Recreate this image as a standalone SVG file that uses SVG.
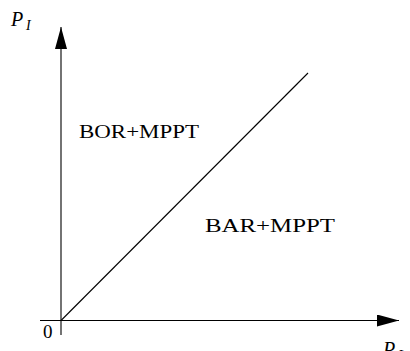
<svg xmlns="http://www.w3.org/2000/svg" width="410" height="351" viewBox="0 0 410 351">
<style>
.ax{stroke:#000;stroke-width:1.1;fill:none}
.lbl{font-family:"Liberation Serif",serif;font-size:19px;fill:#000}
.it{font-family:"Liberation Serif",serif;font-style:italic;fill:#000}
</style>
<defs>
<marker id="ah" markerWidth="22" markerHeight="12" refX="22" refY="6" orient="auto" markerUnits="userSpaceOnUse">
<path d="M0,0 L22,6 L0,12 Z" fill="#000"/>
</marker>
</defs>
<rect width="410" height="351" fill="#fff"/>
<g id="connectors">
<line class="ax" x1="61" y1="335" x2="61" y2="27" marker-end="url(#ah)"/>
<line class="ax" x1="40" y1="320.5" x2="399" y2="320.5" marker-end="url(#ah)"/>
<line class="ax" x1="61" y1="320.5" x2="308" y2="73"/>
</g>
<g id="yaxis-label"><text class="it" x="11" y="26" font-size="20">P</text><text class="it" x="26" y="30" font-size="14">I</text></g>
<g id="xaxis-label"><text class="it" x="383" y="356" font-size="20">P</text><text class="it" x="398" y="360" font-size="14">L</text></g>
<g id="origin"><text class="lbl" x="43" y="338">0</text></g>
<g id="bor"><text class="lbl" x="79" y="138" textLength="120" lengthAdjust="spacingAndGlyphs">BOR+MPPT</text></g>
<g id="bar"><text class="lbl" x="205" y="232" textLength="130" lengthAdjust="spacingAndGlyphs">BAR+MPPT</text></g>
</svg>
